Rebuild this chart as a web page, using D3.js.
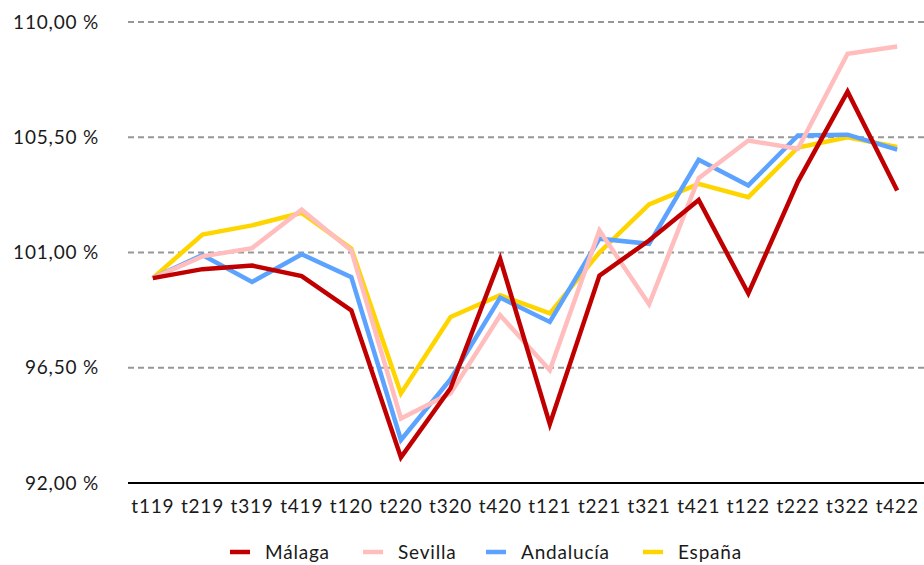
<!DOCTYPE html>
<html>
<head>
<meta charset="utf-8">
<script src="https://cdn.jsdelivr.net/npm/d3@7"></script>
<style>
  body { margin: 0; background: #fff; }
  svg text { font-family: Lato, "Open Sans", sans-serif; fill: #1a1a1a; letter-spacing: 0.8px; }
</style>
</head>
<body>
<svg id="chart" width="924" height="565"></svg>
<script>
const periods = ["t119", "t219", "t319", "t419", "t120", "t220", "t320", "t420",
  "t121", "t221", "t321", "t421", "t122", "t222", "t322", "t422"];

const malaga = [100.0, 100.35, 100.49, 100.08, 98.74, 93.0, 95.7, 100.75,
  94.3, 100.1, 101.47, 103.05, 99.4, 103.77, 107.28, 103.42];
const sevilla = [100.0, 100.85, 101.17, 102.67, 101.08, 94.52, 95.5, 98.55,
  96.4, 101.86, 98.98, 103.9, 105.37, 105.05, 108.76, 109.04];
const andalucia = [100.0, 100.9, 99.85, 100.93, 100.04, 93.68, 96.05, 99.24,
  98.29, 101.54, 101.34, 104.62, 103.62, 105.57, 105.6, 105.02];
const espana = [100.0, 101.7, 102.06, 102.55, 101.15, 95.5, 98.48, 99.33,
  98.62, 101.0, 102.88, 103.68, 103.16, 105.1, 105.5, 105.12];

const yTicks = [92, 96.5, 101, 105.5, 110];

const series = [
  { name: "Málaga", values: malaga, color: "#c00000" },
  { name: "Sevilla", values: sevilla, color: "#ffbdbd" },
  { name: "Andalucía", values: andalucia, color: "#5ba3ff" },
  { name: "España", values: espana, color: "#ffd500" },
];

const svg = d3.select("#chart");
const plotLeft = 128;
const plotRight = 924;
const plotTop = 22;
const plotBottom = 483;
const fontSize = 19;

const x = d3.scaleBand().domain(periods).range([plotLeft, plotRight - 2]);
const y = d3.scaleLinear().domain([92, 110]).range([plotBottom, plotTop]);
const cx = (d) => x(d) + x.bandwidth() / 2;

// grid
svg
  .append("g")
  .selectAll("line")
  .data(yTicks.filter((t) => t !== 92))
  .enter()
  .append("line")
  .attr("x1", plotLeft)
  .attr("x2", plotRight)
  .attr("y1", (d) => y(d))
  .attr("y2", (d) => y(d))
  .attr("stroke", "#979797")
  .attr("stroke-width", 2)
  .attr("stroke-dasharray", "6,4");

// y axis labels
const fmt = (v) => v.toFixed(2).replace(".", ",") + " %";
const yAxis = d3.axisLeft(y).tickValues(yTicks).tickFormat(fmt).tickSize(0).tickPadding(29);
const gy = svg.append("g").attr("transform", `translate(${plotLeft},0)`).call(yAxis);
gy.select(".domain").remove();
gy.attr("font-family", null).attr("font-size", fontSize);

// x axis
const xAxis = d3.axisBottom(x).tickSize(0).tickPadding(17);
const gx = svg.append("g").attr("transform", `translate(0,${plotBottom})`).call(xAxis);
gx.select(".domain").remove();
gx.attr("font-family", null).attr("font-size", fontSize);
svg
  .append("line")
  .attr("x1", plotLeft)
  .attr("x2", plotRight)
  .attr("y1", plotBottom)
  .attr("y2", plotBottom)
  .attr("stroke", "#000")
  .attr("stroke-width", 2);

// lines, first series on top
const line = d3
  .line()
  .x((d, i) => cx(periods[i]))
  .y((d) => y(d));

svg
  .append("g")
  .selectAll("path")
  .data(series.slice().reverse())
  .enter()
  .append("path")
  .attr("d", (d) => line(d.values))
  .attr("fill", "none")
  .attr("stroke", (d) => d.color)
  .attr("stroke-width", 4.5)
  .attr("stroke-linejoin", "miter");

// legend
const legendX = [230, 363, 486, 643];
const legend = svg
  .append("g")
  .selectAll("g")
  .data(series)
  .enter()
  .append("g")
  .attr("transform", (d, i) => `translate(${legendX[i]},552)`);
legend
  .append("line")
  .attr("x1", 0)
  .attr("x2", 20)
  .attr("stroke", (d) => d.color)
  .attr("stroke-width", 4.5);
legend
  .append("text")
  .attr("x", 35)
  .attr("dy", "0.35em")
  .attr("font-size", fontSize)
  .text((d) => d.name);
</script>
</body>
</html>
